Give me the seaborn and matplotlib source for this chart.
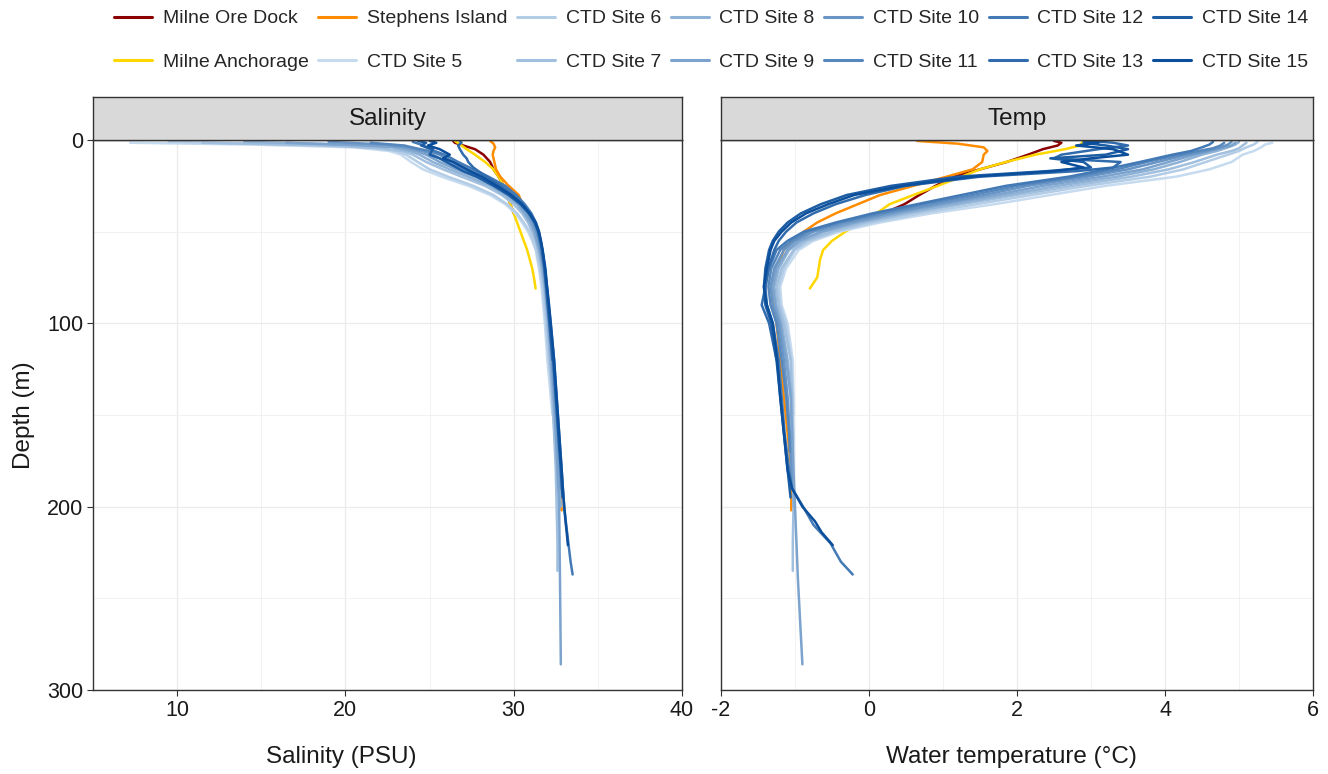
import matplotlib
matplotlib.use("Agg")
import pandas as pd
import matplotlib.pyplot as plt
import seaborn as sns
from matplotlib.ticker import MultipleLocator

# Profile data (depth in m)
ore_dock_depth = [0.5, 1.5, 3, 5, 8, 12, 16, 20, 25, 30, 35, 40]
ore_dock_sal = [26.4, 26.5, 27.0, 27.7, 28.2, 28.6, 28.8, 29.1, 29.4, 29.6, 29.8, 30.0]
ore_dock_temp = [2.5, 2.6, 2.55, 2.35, 2.15, 1.86, 1.5, 1.15, 0.9, 0.68, 0.48, 0.2]

anchorage_depth = [0.5, 3, 5, 8, 12, 16, 20, 25, 30, 35, 40, 45, 50, 55, 60, 65, 70, 75, 81]
anchorage_sal = [26.5, 26.9, 27.2, 27.7, 28.3, 28.8, 29.1, 29.4, 29.6, 29.8, 30.0, 30.2, 30.4,
                 30.6, 30.8, 30.95, 31.1, 31.2, 31.3]
anchorage_temp = [2.9, 2.85, 2.65, 2.25, 1.85, 1.5, 1.25, 0.93, 0.6, 0.28, 0.1, -0.1, -0.32,
                  -0.5, -0.62, -0.66, -0.68, -0.7, -0.8]

stephens_depth = [0.5, 2, 4, 6, 8, 12, 16, 20, 25, 30, 35, 40, 45, 50, 55, 60, 70, 80, 90, 100,
                  120, 140, 160, 180, 202]
stephens_sal = [28.6, 28.8, 28.9, 28.8, 28.75, 28.85, 28.95, 29.2, 29.7, 30.3, 30.5, 30.8, 31.1,
                31.3, 31.45, 31.55, 31.7, 31.8, 31.9, 31.95, 32.1, 32.3, 32.45, 32.65, 32.85]
stephens_temp = [0.65, 1.2, 1.55, 1.6, 1.55, 1.53, 1.4, 1.05, 0.6, 0.15, -0.15, -0.45, -0.7,
                 -0.88, -1.02, -1.15, -1.25, -1.3, -1.3, -1.25, -1.2, -1.15, -1.1, -1.05, -1.05]

site5_depth = [1.5, 2.5, 4, 6, 8, 12, 16, 20, 25, 30, 35, 40, 45, 50, 55, 60, 70, 80, 90, 100,
               120, 140, 150]
site5_sal = [7.2, 14.5, 20.5, 22.6, 23.3, 23.9, 24.6, 25.7, 27.3, 28.6, 29.5, 30.1, 30.5, 30.85,
             31.1, 31.3, 31.5, 31.65, 31.75, 31.85, 32.0, 32.2, 32.3]
site5_temp = [5.45, 5.35, 5.3, 5.2, 5.05, 4.9, 4.6, 4.15, 3.2, 2.45, 1.7, 0.85, 0.15, -0.4, -0.75,
              -0.95, -1.12, -1.2, -1.18, -1.1, -1.03, -1.02, -1.02]

site6_depth = [1.0, 2.5, 4, 6, 8, 12, 16, 20, 25, 30, 35, 40, 45, 50, 55, 60, 70, 80, 90, 100,
               120, 140, 160, 180]
site6_sal = [9.5, 17.0, 21.5, 23.0, 23.6, 24.3, 25.0, 26.1, 27.6, 28.8, 29.6, 30.2, 30.6, 30.95,
             31.15, 31.35, 31.55, 31.72, 31.82, 31.92, 32.08, 32.28, 32.42, 32.55]
site6_temp = [5.25, 5.2, 5.1, 5.0, 4.85, 4.55, 4.25, 3.8, 2.95, 2.2, 1.45, 0.7, 0.05, -0.45, -0.8,
              -1.0, -1.15, -1.22, -1.2, -1.12, -1.05, -1.03, -1.02, -1.02]

site7_depth = [1.5, 3, 4.5, 6, 8, 12, 16, 20, 25, 30, 35, 40, 45, 50, 55, 60, 70, 80, 90, 100,
               120, 140, 160, 180, 200, 220, 235]
site7_sal = [11.5, 19.0, 22.0, 23.4, 24.0, 24.8, 25.8, 26.9, 28.3, 29.3, 30.0, 30.5, 30.85, 31.1,
             31.3, 31.45, 31.65, 31.8, 31.9, 32.0, 32.15, 32.3, 32.4, 32.5, 32.55, 32.6, 32.6]
site7_temp = [5.1, 5.05, 5.0, 4.9, 4.7, 4.4, 4.05, 3.55, 2.75, 2.0, 1.25, 0.55, -0.05, -0.5, -0.85,
              -1.02, -1.18, -1.25, -1.22, -1.15, -1.06, -1.04, -1.03, -1.03, -1.02, -1.03, -1.03]

site8_depth = [1.0, 2.5, 4, 6, 8, 12, 16, 20, 25, 30, 35, 40, 45, 50, 55, 60, 70, 80, 90, 100,
               120, 140, 160, 180, 200]
site8_sal = [14.0, 20.0, 22.8, 23.8, 24.4, 25.2, 26.2, 27.3, 28.6, 29.5, 30.2, 30.6, 30.95, 31.2,
             31.35, 31.5, 31.7, 31.85, 31.95, 32.05, 32.2, 32.35, 32.5, 32.65, 32.8]
site8_temp = [5.0, 4.95, 4.85, 4.7, 4.5, 4.2, 3.85, 3.35, 2.55, 1.85, 1.15, 0.45, -0.15, -0.6, -0.9,
              -1.08, -1.22, -1.28, -1.25, -1.18, -1.1, -1.05, -1.04, -1.03, -1.02]

site9_depth = [1.5, 3, 4, 6, 8, 12, 16, 20, 25, 30, 35, 40, 45, 50, 55, 60, 70, 80, 90, 100,
               120, 140, 160, 180, 200, 240, 286]
site9_sal = [16.5, 21.5, 23.3, 24.2, 24.8, 25.6, 26.6, 27.7, 28.9, 29.7, 30.3, 30.7, 31.05, 31.25,
             31.4, 31.55, 31.75, 31.88, 31.98, 32.08, 32.25, 32.4, 32.5, 32.6, 32.7, 32.75, 32.8]
site9_temp = [4.95, 4.9, 4.8, 4.6, 4.4, 4.05, 3.7, 3.15, 2.35, 1.7, 1.0, 0.35, -0.2, -0.65, -0.95,
              -1.1, -1.25, -1.3, -1.27, -1.2, -1.12, -1.06, -1.04, -1.02, -1.0, -0.96, -0.9]

site10_depth = [1.0, 2.5, 4, 6, 8, 12, 16, 20, 25, 30, 35, 40, 45, 50, 55, 60, 70, 80, 90, 100,
                120, 140, 160, 180, 190]
site10_sal = [19.0, 22.5, 23.8, 24.6, 25.2, 26.0, 27.0, 28.0, 29.1, 29.9, 30.45, 30.85, 31.15,
              31.35, 31.5, 31.6, 31.8, 31.92, 32.02, 32.12, 32.3, 32.45, 32.6, 32.75, 32.8]
site10_temp = [4.9, 4.85, 4.75, 4.55, 4.3, 3.9, 3.5, 2.95, 2.15, 1.55, 0.9, 0.25, -0.3, -0.75, -1.0,
               -1.15, -1.28, -1.33, -1.3, -1.22, -1.15, -1.1, -1.07, -1.05, -1.04]

site11_depth = [1.5, 3, 4.5, 6, 8, 12, 16, 20, 25, 30, 35, 40, 45, 50, 55, 60, 70, 80, 90, 100,
                120, 140, 160, 170]
site11_sal = [21.5, 23.5, 24.2, 25.0, 25.6, 26.4, 27.3, 28.3, 29.3, 30.0, 30.55, 30.95, 31.25,
              31.42, 31.55, 31.65, 31.82, 31.95, 32.05, 32.15, 32.35, 32.5, 32.65, 32.7]
site11_temp = [4.8, 4.75, 4.65, 4.45, 4.2, 3.75, 3.35, 2.8, 2.0, 1.4, 0.75, 0.15, -0.4, -0.82,
               -1.05, -1.2, -1.32, -1.36, -1.33, -1.25, -1.18, -1.12, -1.08, -1.07]

site12_depth = [1.0, 2.5, 4, 6, 8, 12, 16, 20, 25, 30, 35, 40, 45, 50, 55, 60, 70, 80, 90, 100,
                120, 140, 160, 180, 190, 200, 210, 220, 230, 237]
site12_sal = [24.0, 24.5, 24.8, 25.3, 25.9, 26.7, 27.6, 28.5, 29.5, 30.15, 30.65, 31.05, 31.32,
              31.5, 31.6, 31.7, 31.85, 31.98, 32.08, 32.2, 32.4, 32.55, 32.7, 32.85, 32.92, 33.0,
              33.12, 33.25, 33.38, 33.5]
site12_temp = [4.65, 4.6, 4.5, 4.35, 4.1, 3.66, 3.2, 2.7, 1.85, 1.25, 0.65, 0.05, -0.45, -0.88,
               -1.1, -1.25, -1.35, -1.4, -1.38, -1.3, -1.22, -1.18, -1.14, -1.08, -1.04, -0.89,
               -0.75, -0.52, -0.38, -0.22]

site13_depth = [0.5, 1.5, 3, 5, 8, 10, 12, 15, 17, 20, 25, 30, 35, 40, 45, 50, 55, 60, 70, 80,
                90, 100, 120]
site13_sal = [26.8, 26.9, 26.7, 26.8, 27.0, 27.2, 27.3, 27.6, 27.9, 28.4, 29.2, 29.9, 30.5, 30.95,
              31.25, 31.45, 31.58, 31.68, 31.82, 31.92, 32.02, 32.12, 32.3]
site13_temp = [3.0, 3.3, 3.5, 3.1, 2.6, 2.5, 3.4, 3.3, 2.8, 1.5, 0.5, -0.05, -0.45, -0.75, -0.98,
               -1.12, -1.22, -1.28, -1.36, -1.4, -1.45, -1.35, -1.25]

site14_depth = [0.5, 1.5, 3, 5, 8, 10, 12, 15, 17, 20, 25, 30, 35, 40, 45, 50, 55, 60, 70, 80,
                90, 100, 120, 140, 160, 180, 195]
site14_sal = [24.3, 24.8, 24.5, 25.2, 25.0, 25.6, 26.0, 26.6, 27.0, 27.8, 28.8, 29.7, 30.4, 30.9,
              31.25, 31.47, 31.6, 31.7, 31.85, 31.96, 32.06, 32.16, 32.35, 32.5, 32.65, 32.8, 32.9]
site14_temp = [3.2, 2.9, 3.2, 3.5, 3.2, 2.45, 2.9, 3.0, 2.4, 1.2, 0.3, -0.3, -0.65, -0.92, -1.1,
               -1.22, -1.3, -1.35, -1.4, -1.42, -1.4, -1.32, -1.25, -1.2, -1.15, -1.1, -1.06]

site15_depth = [0.5, 1.5, 3, 5, 8, 10, 12, 15, 17, 20, 25, 30, 35, 40, 45, 50, 55, 60, 70, 80,
                90, 100, 120, 140, 160, 180, 190, 200, 208, 214, 221]
site15_sal = [25.0, 25.4, 24.9, 25.6, 26.2, 25.8, 26.4, 27.0, 27.4, 28.1, 29.0, 29.85, 30.5, 30.95,
              31.3, 31.5, 31.62, 31.72, 31.88, 31.98, 32.1, 32.2, 32.4, 32.55, 32.7, 32.85, 32.92,
              33.0, 33.08, 33.15, 33.22]
site15_temp = [2.9, 3.1, 2.8, 3.3, 3.5, 3.0, 2.6, 2.9, 2.5, 1.4, 0.45, -0.2, -0.55, -0.85, -1.05,
               -1.18, -1.28, -1.33, -1.38, -1.42, -1.38, -1.3, -1.24, -1.2, -1.15, -1.1, -1.04,
               -0.9, -0.73, -0.64, -0.49]

site_names = ["Milne Ore Dock", "Milne Anchorage", "Stephens Island"] + \
             [f"CTD Site {i}" for i in range(5, 16)]
profiles = [
    (ore_dock_depth, ore_dock_sal, ore_dock_temp),
    (anchorage_depth, anchorage_sal, anchorage_temp),
    (stephens_depth, stephens_sal, stephens_temp),
    (site5_depth, site5_sal, site5_temp),
    (site6_depth, site6_sal, site6_temp),
    (site7_depth, site7_sal, site7_temp),
    (site8_depth, site8_sal, site8_temp),
    (site9_depth, site9_sal, site9_temp),
    (site10_depth, site10_sal, site10_temp),
    (site11_depth, site11_sal, site11_temp),
    (site12_depth, site12_sal, site12_temp),
    (site13_depth, site13_sal, site13_temp),
    (site14_depth, site14_sal, site14_temp),
    (site15_depth, site15_sal, site15_temp),
]

rows = []
for name, (dep, sal, tmp) in zip(site_names, profiles):
    for d, s, t in zip(dep, sal, tmp):
        rows.append({"Site": name, "Depth": d, "Salinity": s, "Temp": t})
df = pd.DataFrame(rows)

# colours
blues = sns.blend_palette(["#c6dbef", "#0b4f9c"], 11)
palette = {"Milne Ore Dock": "#8b0000", "Milne Anchorage": "#ffd700",
           "Stephens Island": "#ff8c00"}
for i, c in enumerate(blues):
    palette[f"CTD Site {i + 5}"] = c

sns.set_theme(style="white")
plt.rcParams["font.family"] = ["Liberation Sans", "DejaVu Sans"]
plt.rcParams["axes.unicode_minus"] = False

fig = plt.figure(figsize=(13.28, 7.74), dpi=100)
W, H = 1328, 774
# var, axis title, panel left/right (px), xlim, major/minor step, title centre (px)
panels = [
    ("Salinity", "Salinity (PSU)", 93, 682, (5, 40), 10, 5, 341),
    ("Temp", "Water temperature (\u00b0C)", 721, 1313, (-2, 6), 2, 1, 1011),
]
ax_top, ax_bot = 140, 690

axes = []
for var, xlabel, x0, x1, xlim, major, minor, xc in panels:
    ax = fig.add_axes([x0 / W, 1 - ax_bot / H, (x1 - x0) / W, (ax_bot - ax_top) / H])
    sns.lineplot(data=df, x=var, y="Depth", hue="Site", hue_order=site_names,
                 palette=palette, sort=False, estimator=None, linewidth=1.8, ax=ax)
    ax.set_xlim(*xlim)
    ax.set_ylim(300, 0)
    ax.xaxis.set_major_locator(MultipleLocator(major))
    ax.xaxis.set_minor_locator(MultipleLocator(minor))
    ax.yaxis.set_major_locator(MultipleLocator(100))
    ax.yaxis.set_minor_locator(MultipleLocator(50))
    ax.grid(which="major", color="#ebebeb", linewidth=0.9)
    ax.grid(which="minor", color="#f0f0f0", linewidth=0.6)
    ax.set_axisbelow(True)
    for sp in ax.spines.values():
        sp.set_color("#333333")
        sp.set_linewidth(1.0)
    ax.tick_params(which="major", direction="out", length=4, width=0.8, color="#333333",
                   labelsize=15.5, labelcolor="#1a1a1a", bottom=True, left=True, pad=3)
    ax.tick_params(which="minor", length=0)
    ax.set_xlabel("")
    ax.set_ylabel("")
    fig.text(xc / W, 1 - 757 / H, xlabel, ha="center", va="center", fontsize=17.5,
             color="#1a1a1a")

    # facet strip
    strip = fig.add_axes([x0 / W, 1 - ax_top / H, (x1 - x0) / W, 43 / H])
    strip.set_facecolor("#d9d9d9")
    strip.set_xticks([])
    strip.set_yticks([])
    for sp in strip.spines.values():
        sp.set_color("#333333")
        sp.set_linewidth(1.0)
    strip.text(0.5, 0.5, var, ha="center", va="center", fontsize=17.5, color="#1a1a1a",
               transform=strip.transAxes)
    axes.append(ax)

fig.text(24 / W, 1 - 415 / H, "Depth (m)", rotation=90, ha="center", va="center",
         fontsize=17.5, color="#1a1a1a")
axes[1].tick_params(left=False, labelleft=False)

handles, labels = axes[0].get_legend_handles_labels()
for ax in axes:
    ax.get_legend().remove()
leg = fig.legend(handles, labels, ncol=7, loc="upper center",
                 bbox_to_anchor=(711 / W, 1 - 0 / H), frameon=False, fontsize=14.0,
                 handlelength=1.95, handletextpad=0.55, columnspacing=0.5, labelspacing=1.35,
                 borderpad=0)
for line in leg.get_lines():
    line.set_linewidth(2.2)

fig.savefig("out.png", dpi=100)
